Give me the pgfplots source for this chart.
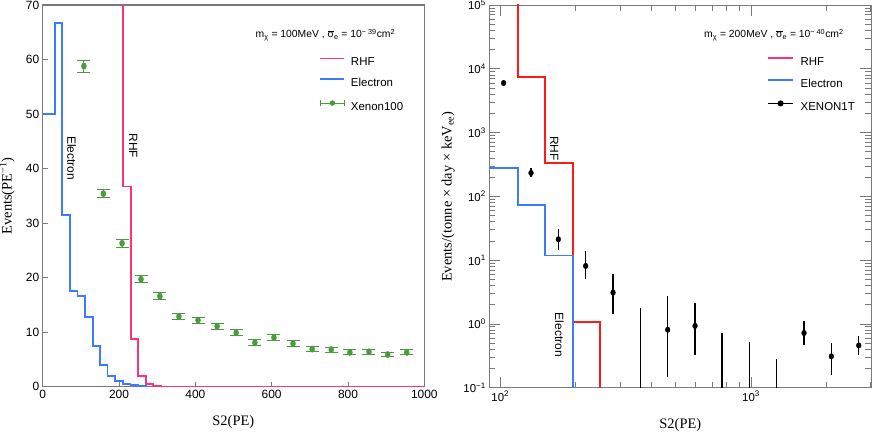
\documentclass[border=0pt]{standalone}
\usepackage{pgfplots}
\pgfplotsset{compat=1.18}
\usepackage{fontspec}
\setmainfont{Liberation Sans}
\newfontfamily\serifF{Liberation Serif}
\definecolor{rhfpink}{HTML}{FF3370}
\definecolor{rhfred}{HTML}{FF1A1A}
\definecolor{elblue}{HTML}{3A7BFF}
\definecolor{xgreen}{HTML}{4A9A3E}
\definecolor{framegray}{HTML}{7A7A7A}

\pgfplotsset{
  leglineA/.style={legend image code/.code={\draw[##1] (0bp,4bp)--(24bp,4bp);}},
  leglineB/.style={legend image code/.code={\draw[##1] (0bp,4bp)--(25bp,4bp);}},
  leggreen/.style={legend image code/.code={
   \draw[##1] (0bp,4bp)--(24bp,4bp);
   \draw[##1] (0bp,0.7bp)--(0bp,7.3bp);
   \draw[##1] (24bp,0.7bp)--(24bp,7.3bp);
   \fill[##1] (12bp,4bp) circle (2.2bp);}},
  legblack/.style={legend image code/.code={
   \draw[##1] (0bp,4bp)--(25bp,4bp);
   \fill[##1] (12.5bp,4bp) circle (2.5bp);}},
}

\pgfplotstableread{
x y e
108 58.8 1.1
159 35.4 0.75
208 26.3 0.7
257.6 19.7 0.65
307 16.6 0.6
357 12.9 0.55
407 12.2 0.55
457 11.1 0.55
507 9.9 0.5
556 8.1 0.5
606 9.0 0.5
656 7.9 0.5
706 6.9 0.45
756 6.8 0.45
805 6.3 0.45
855 6.4 0.45
904 5.9 0.45
954 6.3 0.45
}\xenonhundred

\pgfplotstableread{
x y ep em
103.1 5980 700 650
132.6 233 42 29
170.4 21.2 9.3 6.7
219 8.1 6.0 3.0
281.6 3.1 3.0 1.68
465 0.81 1.94 0.665
598 0.93 1.17 0.60
1627 0.72 0.38 0.26
2091 0.31 0.19 0.15
2689 0.46 0.18 0.13
}\xenononet

\begin{document}
\begin{tikzpicture}
\useasboundingbox (0,0) rectangle (872bp,432bp);
% ---------------- left panel ----------------
\begin{axis}[
  at={(42.7bp,45.3bp)}, anchor=south west,
  scale only axis, width=381.6bp, height=381.7bp,
  xmin=0, xmax=1000, ymin=0, ymax=70,
  xtick={0,200,...,1000}, ytick={0,10,...,70},
  tick pos=left, tick align=inside, major tick length=5bp,
  axis line style={framegray, line width=1.1bp},
  every tick/.style={framegray, line width=0.8bp},
  tick label style={font=\fontsize{12}{14}\selectfont},
  /pgf/number format/assume math mode=true,
  /pgf/number format/1000 sep={},
  xlabel={\serifF S2(PE)},
  ylabel={\serifF Events(PE\textsuperscript{−1})},
  xlabel style={font=\fontsize{14.5}{16}\selectfont, at={(axis description cs:0.4995,-0.092)}, anchor=center},
  ylabel style={font=\fontsize{14.5}{16}\selectfont, at={(axis description cs:-0.093,0.5)}, anchor=center},
  legend style={draw=none, fill=none, at={(axis description cs:0.7248,0.8625)}, anchor=north west,
    font=\fontsize{11.5}{13}\selectfont, row sep=11.1bp, inner sep=0pt, nodes={inner sep=0pt},
    /tikz/every odd column/.style={column sep=5.7bp}},
  legend cell align=left,
]
\addlegendimage{rhfpink, line width=1.8bp, leglineA}
\addlegendentry{RHF}
\addlegendimage{elblue, line width=1.8bp, leglineA}
\addlegendentry{Electron}
\addlegendimage{xgreen, line width=1bp, leggreen}
\addlegendentry{Xenon100}

\addplot[elblue, line width=1.8bp, forget plot] coordinates {
 (0,50) (32,50) (32,66.7) (51.5,66.7) (51.5,31.5) (71,31.5) (71,17.5) (91,17.5)
 (91,16.7) (111,16.7) (111,12.8) (131,12.8) (131,7.5) (150,7.5) (150,4.0) (170,4.0)
 (170,2.0) (190,2.0) (190,1.0) (210,1.0) (210,0.5) (230,0.5) (230,0.25) (250,0.25)
 (250,0.12) (270,0.12) (270,0.05) (290,0.05) (290,0)};
\addplot[rhfpink, line width=1.8bp, forget plot] coordinates {
 (211,120) (211,36.7) (230.6,36.7) (230.6,8.8) (250,8.8) (250,2.0) (270,2.0)
 (270,0.45) (290,0.45) (290,0.1) (310,0.1) (310,0) (1000,0)};
\addplot[xgreen, only marks, mark=*, mark size=3.2bp, mark options={xscale=0.78}, forget plot,
  error bars/.cd, y dir=both, y explicit,
  error bar style={xgreen, line width=1bp},
  error mark options={xgreen, line width=1bp, mark size=6.5bp, rotate=90}]
  table[x=x, y=y, y error=e] {\xenonhundred};

\node[anchor=west, font=\fontsize{10.4}{12}\selectfont] at (axis cs:549,64.5)
  {m\textsubscript{χ} = 100MeV , $\overline{\mbox{σ}}$\textsubscript{e} = 10\textsuperscript{− 39}cm\textsuperscript{2}};
\node[rotate=-90, font=\fontsize{12}{14}\selectfont] at (axis cs:76,41.9) {Electron};
\node[rotate=-90, font=\fontsize{12}{14}\selectfont] at (axis cs:237.4,44.2) {RHF};
\end{axis}

% ---------------- right panel ----------------
\begin{axis}[
  at={(489.3bp,44.3bp)}, anchor=south west,
  scale only axis, width=381.7bp, height=382.7bp,
  xmode=log, ymode=log,
  xmin=90.4, xmax=3010, ymin=0.1, ymax=1e5,
  xtick={100,1000}, xticklabels={10\textsuperscript{2},10\textsuperscript{3}},
  minor xtick={200,300,400,500,600,700,800,900,2000,3000},
  ytick={0.1,1,10,100,1000,10000,100000},
  yticklabels={10\textsuperscript{−1},10\textsuperscript{0},10\textsuperscript{1},10\textsuperscript{2},10\textsuperscript{3},10\textsuperscript{4},10\textsuperscript{5}},
  minor ytick={0.2,0.3,0.4,0.5,0.6,0.7,0.8,0.9,2,3,4,5,6,7,8,9,20,30,40,50,60,70,80,90,
    200,300,400,500,600,700,800,900,2000,3000,4000,5000,6000,7000,8000,9000,
    20000,30000,40000,50000,60000,70000,80000,90000},
  tick align=inside, major tick length=11bp, minor tick length=6bp,
  axis line style={framegray, line width=0.9bp},
  every tick/.style={framegray, line width=0.8bp},
  tick label style={font=\fontsize{11.5}{13}\selectfont},
  xlabel={\serifF S2(PE)},
  ylabel={\serifF Events/(tonne × day × keV\textsubscript{ee})},
  xlabel style={font=\fontsize{14.5}{16}\selectfont, at={(axis description cs:0.5004,-0.0975)}, anchor=center},
  ylabel style={font=\fontsize{14.5}{16}\selectfont, at={(axis description cs:-0.108,0.499)}, anchor=center},
  legend style={draw=none, fill=none, at={(axis description cs:0.7275,0.8635)}, anchor=north west,
    font=\fontsize{11.5}{13}\selectfont, row sep=11.8bp, inner sep=0pt, nodes={inner sep=0pt},
    /tikz/every odd column/.style={column sep=6.7bp}},
  legend cell align=left,
]
\addlegendimage{rhfpink, line width=1.8bp, leglineB}
\addlegendentry{RHF}
\addlegendimage{elblue, line width=1.8bp, leglineB}
\addlegendentry{Electron}
\addlegendimage{black, line width=1bp, legblack}
\addlegendentry{XENON1T}

\addplot[rhfred, line width=1.8bp, forget plot] coordinates {
 (117.3,1e6) (117.3,7500) (151.2,7500) (151.2,337) (194.4,337) (194.4,1.06)
 (249.8,1.06) (249.8,0.01)};
\addplot[elblue, line width=1.8bp, forget plot] coordinates {
 (85,275) (117.3,275) (117.3,73.3) (151.2,73.3) (151.2,11.8) (194.4,11.8) (194.4,0.01)};

\addplot[black, line width=1.1bp, forget plot] coordinates {(361.8,1.76) (361.8,0.05)};
\addplot[black, line width=1.1bp, forget plot] coordinates {(766,0.72) (766,0.05)};
\addplot[black, line width=1.1bp, forget plot] coordinates {(984,0.52) (984,0.05)};
\addplot[black, line width=1.1bp, forget plot] coordinates {(1265,0.28) (1265,0.05)};

\addplot[black, only marks, mark=*, mark size=2.8bp, mark options={xscale=0.85}, forget plot,
  error bars/.cd, y dir=both, y explicit, error mark=none,
  error bar style={black, line width=1.1bp}]
  table[x=x, y=y, y error plus=ep, y error minus=em] {\xenononet};

\node[anchor=west, font=\fontsize{10.4}{12}\selectfont] at (axis cs:630,33900)
  {m\textsubscript{χ} = 200MeV , $\overline{\mbox{σ}}$\textsubscript{e} = 10\textsuperscript{− 40}cm\textsuperscript{2}};
\node[rotate=-90, font=\fontsize{12}{14}\selectfont] at (axis cs:164.2,560) {RHF};
\node[rotate=-90, font=\fontsize{12}{14}\selectfont] at (axis cs:172,0.673) {Electron};
\end{axis}
\end{tikzpicture}
\end{document}
